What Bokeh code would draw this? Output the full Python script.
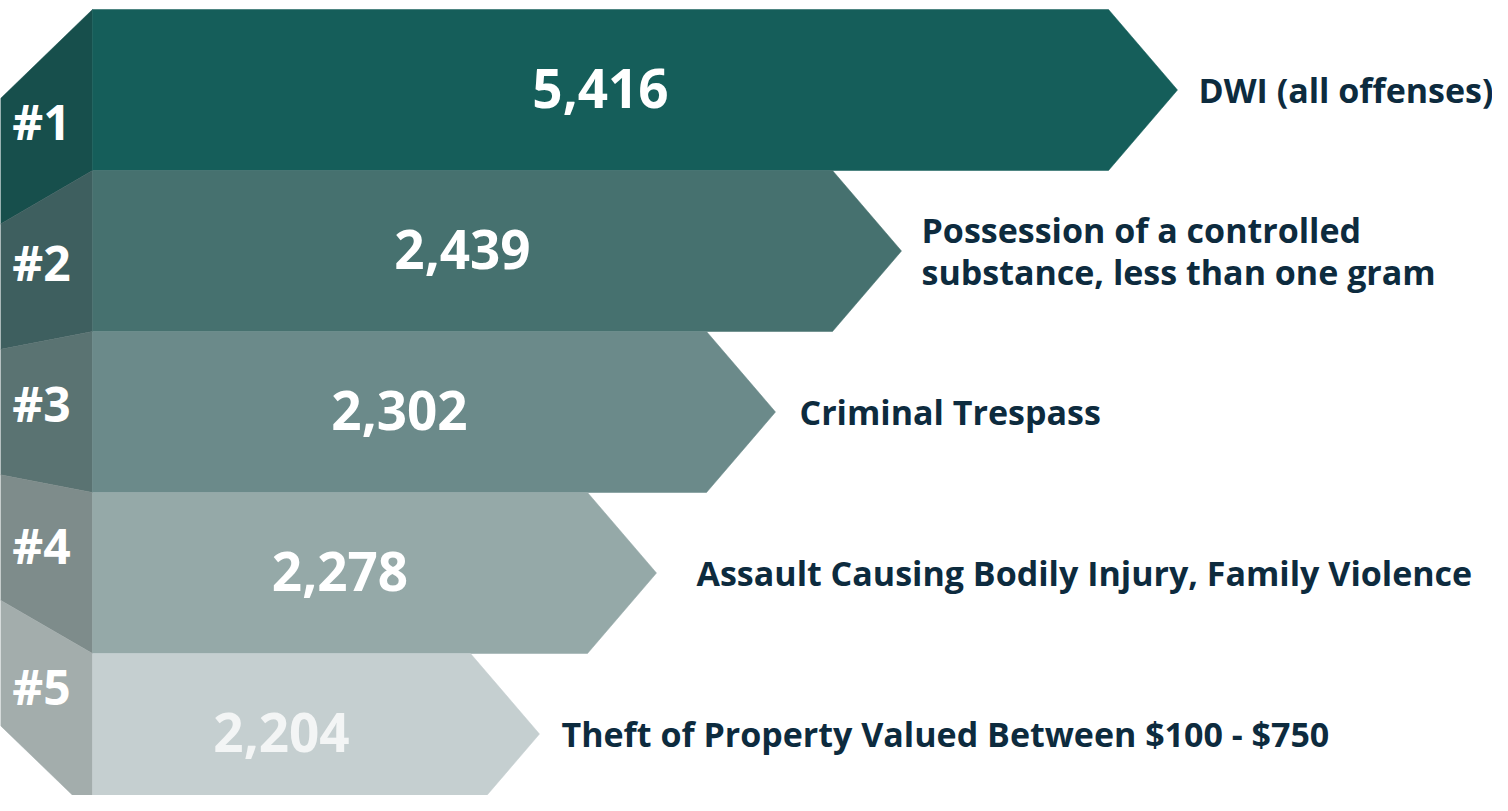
from bokeh.plotting import figure
from bokeh.models import Range1d, ColumnDataSource
from bokeh.core.properties import value
from bokeh.embed import file_html
from bokeh.resources import INLINE

# ---- data ----
ranks = ["#1", "#2", "#3", "#4", "#5"]
counts = [5416, 2439, 2302, 2278, 2204]
offenses = [
    "DWI (all offenses)",
    "Possession of a controlled\nsubstance, less than one gram",
    "Criminal Trespass",
    "Assault Causing Bodily Injury, Family Violence",
    "Theft of Property Valued Between $100 - $750",
]
# displayed arrow-body end (decorative infographic scale, chart units)
bar_end = [1108, 832, 706, 587, 470]

# ---- styles / layout ----
bar_colors = ["#155e5a", "#46716f", "#6b8a8a", "#95a9a8", "#c5cfd0"]
side_colors = ["#174f4c", "#3e5f5f", "#5a7372", "#7e8c8b", "#a3adac"]
value_colors = ["#ffffff", "#ffffff", "#ffffff", "#ffffff", "#f3f5f5"]
label_gap = [21, 20, 24, 40, 22]
FONT = "Open Sans"
BAR_X0 = 92
TIP = 69

W, H = 1492, 795
ROW_PX = 161.0
TOP_PX = 9.0

p = figure(width=W, height=H, output_backend="svg", toolbar_location=None,
           x_range=Range1d(0, W),
           y_range=Range1d((H - TOP_PX) / ROW_PX, (0 - TOP_PX) / ROW_PX),
           min_border=0)
p.axis.visible = False
p.grid.visible = False
p.outline_line_color = None
p.background_fill_color = "white"
p.border_fill_color = "white"

def left_y(i):
    return 0.553 + 0.779 * i

n = len(counts)
arrow_xs, arrow_ys, side_xs, side_ys = [], [], [], []
rank_x, rank_y, val_x, val_y, lab_x, lab_y = [], [], [], [], [], []
for i in range(n):
    e = bar_end[i]
    arrow_xs.append([BAR_X0, e, e + TIP, e, BAR_X0])
    arrow_ys.append([i, i, i + 0.5, i + 1, i + 1])
    side_xs.append([0, BAR_X0, BAR_X0, 0])
    side_ys.append([left_y(i), i, i + 1, left_y(i + 1)])
    f = 41 / BAR_X0
    top = left_y(i) + (i - left_y(i)) * f
    bot = left_y(i + 1) + (i + 1 - left_y(i + 1)) * f
    rank_x.append(41)
    rank_y.append((top + bot) / 2 - 0.05)
    val_x.append((BAR_X0 + e) / 2)
    val_y.append(i + 0.49)
    lab_x.append(e + TIP + label_gap[i])
    lab_y.append(i + 0.5)

src = ColumnDataSource(dict(
    axs=arrow_xs, ays=arrow_ys, sxs=side_xs, sys=side_ys,
    bar_color=bar_colors, side_color=side_colors, val_color=value_colors,
    rank=ranks, rx=rank_x, ry=rank_y,
    val=[f"{c:,}" for c in counts], vx=val_x, vy=val_y,
    lab=offenses, lx=lab_x, ly=lab_y,
))

p.patches("sxs", "sys", source=src, fill_color="side_color", line_color="side_color", line_width=0.5)
p.patches("axs", "ays", source=src, fill_color="bar_color", line_color="bar_color", line_width=0.5)

p.text("rx", "ry", text="rank", source=src, text_font=value(FONT), text_font_style="bold",
       text_font_size="48px", text_color="white", text_align="center", text_baseline="middle")
p.text("vx", "vy", text="val", source=src, text_font=value(FONT), text_font_style="bold",
       text_font_size="53px", text_color="val_color", text_align="center", text_baseline="middle")
p.text("lx", "ly", text="lab", source=src, text_font=value(FONT), text_font_style="bold",
       text_font_size="34px", text_color="#0d2b3e", text_align="left", text_baseline="middle",
       text_line_height=0.93)

open("out.html", "w").write(file_html(p, INLINE))
